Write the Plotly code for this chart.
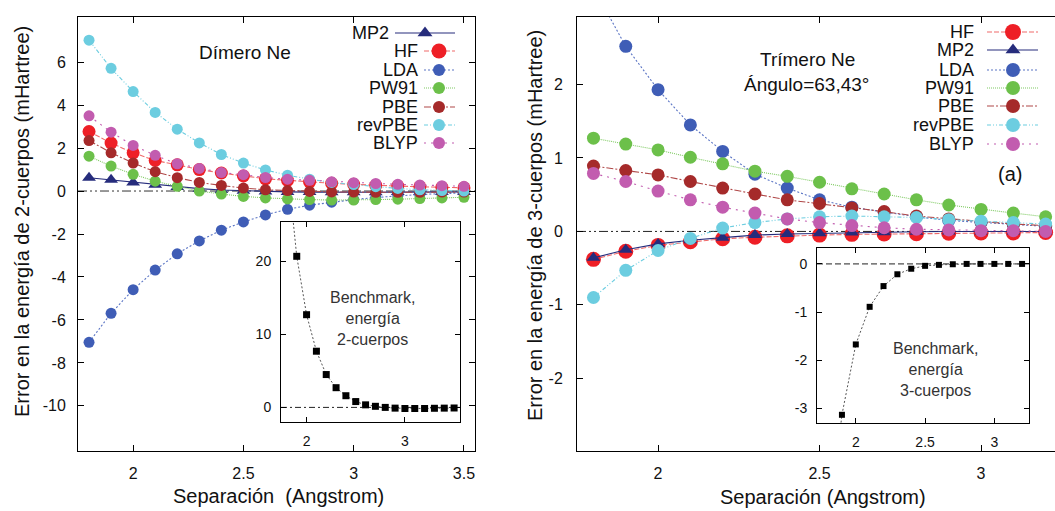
import plotly.graph_objects as go

W, H = 1055, 511

# ---------------- data: Ne dimer, 2-body error (mHartree) ----------------
sep_dimer = [1.8, 1.9, 2.0, 2.1, 2.2, 2.3, 2.4, 2.5, 2.6, 2.7, 2.8, 2.9, 3.0, 3.1, 3.2, 3.3, 3.4, 3.5]
mp2_2b = [0.62, 0.52, 0.40, 0.29, 0.19, 0.11, 0.05, 0.01, -0.02, -0.04, -0.05, -0.06, -0.06, -0.06, -0.05, -0.05, -0.04, -0.04]
hf_2b = [2.77, 2.23, 1.78, 1.42, 1.22, 1.00, 0.84, 0.70, 0.57, 0.50, 0.42, 0.36, 0.31, 0.26, 0.23, 0.20, 0.17, 0.15]
lda_2b = [-7.04, -5.69, -4.59, -3.68, -2.92, -2.32, -1.82, -1.44, -1.11, -0.85, -0.66, -0.52, -0.40, -0.30, -0.22, -0.16, -0.12, -0.09]
pw91_2b = [1.62, 1.16, 0.78, 0.46, 0.22, 0.0, -0.14, -0.25, -0.32, -0.37, -0.40, -0.42, -0.42, -0.40, -0.38, -0.35, -0.32, -0.29]
pbe_2b = [2.35, 1.78, 1.30, 0.90, 0.62, 0.40, 0.26, 0.14, 0.06, 0.02, -0.02, -0.04, -0.05, -0.06, -0.06, -0.06, -0.05, -0.05]
revpbe_2b = [7.02, 5.71, 4.63, 3.66, 2.88, 2.24, 1.70, 1.30, 0.98, 0.74, 0.55, 0.40, 0.30, 0.20, 0.12, 0.06, 0.02, 0.0]
blyp_2b = [3.50, 2.74, 2.12, 1.66, 1.27, 1.05, 0.86, 0.76, 0.63, 0.55, 0.50, 0.43, 0.39, 0.35, 0.31, 0.28, 0.25, 0.22]

# benchmark 2-body energy (inset)
bench_2b = [34.0, 20.7, 12.7, 7.7, 4.5, 2.7, 1.6, 0.8, 0.35, 0.15, 0.0, -0.1, -0.15, -0.15, -0.15, -0.12, -0.1, -0.08]

# ---------------- data: Ne trimer, 3-body error (mHartree) ----------------
sep_trimer = [1.8, 1.9, 2.0, 2.1, 2.2, 2.3, 2.4, 2.5, 2.6, 2.7, 2.8, 2.9, 3.0, 3.1, 3.2]
hf_3b = [-0.38, -0.27, -0.19, -0.14, -0.10, -0.08, -0.06, -0.05, -0.04, -0.035, -0.03, -0.025, -0.02, -0.02, -0.015]
mp2_3b = [-0.36, -0.25, -0.17, -0.12, -0.085, -0.05, -0.035, -0.025, -0.015, -0.01, -0.005, 0.0, 0.0, 0.0, 0.0]
lda_3b = [3.32, 2.52, 1.93, 1.45, 1.09, 0.78, 0.59, 0.43, 0.33, 0.26, 0.20, 0.15, 0.12, 0.09, 0.07]
pw91_3b = [1.27, 1.19, 1.11, 1.01, 0.92, 0.82, 0.75, 0.67, 0.58, 0.51, 0.43, 0.36, 0.30, 0.25, 0.20]
pbe_3b = [0.89, 0.83, 0.77, 0.68, 0.59, 0.51, 0.43, 0.38, 0.32, 0.27, 0.21, 0.17, 0.13, 0.10, 0.08]
revpbe_3b = [-0.90, -0.53, -0.26, -0.095, 0.046, 0.12, 0.17, 0.20, 0.21, 0.20, 0.19, 0.16, 0.14, 0.12, 0.10]
blyp_3b = [0.79, 0.68, 0.55, 0.43, 0.33, 0.25, 0.17, 0.12, 0.08, 0.05, 0.03, 0.02, 0.01, 0.01, 0.0]

# benchmark 3-body energy (inset)
bench_3b = [-5.6, -3.13, -1.67, -0.89, -0.46, -0.215, -0.10, -0.04, -0.02, -0.007, 0.0, 0.0, 0.0, 0.0, 0.0]

left_ticks_x = [2, 2.5, 3, 3.5]
left_ticks_y = [-10, -8, -6, -4, -2, 0, 2, 4, 6]
right_ticks_x = [2, 2.5, 3]
right_ticks_y = [-2, -1, 0, 1, 2]
inset2_ticks_x = [2, 3]
inset2_ticks_y = [0, 10, 20]
inset3_ticks_x = [2, 2.5, 3]
inset3_ticks_y = [-3, -2, -1, 0]

series_left = {"MP2": mp2_2b, "HF": hf_2b, "LDA": lda_2b, "PW91": pw91_2b,
               "PBE": pbe_2b, "revPBE": revpbe_2b, "BLYP": blyp_2b}
series_right = {"HF": hf_3b, "MP2": mp2_3b, "LDA": lda_3b, "PW91": pw91_3b,
                "PBE": pbe_3b, "revPBE": revpbe_3b, "BLYP": blyp_3b}

# ---------------- styles ----------------
FONT = "Liberation Sans, Arial, Helvetica, sans-serif"
style = {
    "MP2": dict(color="#262c7c", lc="#262c7c", dash="solid", symbol="triangle-up"),
    "HF": dict(color="#ee1f26", lc="#f06a6a", dash="5px,2px", symbol="circle"),
    "LDA": dict(color="#3f5db6", lc="#5a74c4", dash="2px,2px", symbol="circle"),
    "PW91": dict(color="#6cc04a", lc="#7fca62", dash="1px,1px", symbol="circle"),
    "PBE": dict(color="#a52a2a", lc="#b04848", dash="7px,2px,2px,2px", symbol="circle"),
    "revPBE": dict(color="#6ccde0", lc="#6ccde0", dash="4px,2px,1px,2px,1px,2px", symbol="circle"),
    "BLYP": dict(color="#c25caf", lc="#c25caf", dash="2px,5px", symbol="circle"),
}
size_left = {"MP2": 12, "HF": 13, "LDA": 11, "PW91": 11, "PBE": 11, "revPBE": 11, "BLYP": 11}
size_right = {"MP2": 12, "HF": 15, "LDA": 13, "PW91": 13, "PBE": 13, "revPBE": 13, "BLYP": 13}


def px(x):
    return x / W


def py(y):
    return 1 - y / H


fig = go.Figure()

for name, vals in series_left.items():
    s = style[name]
    fig.add_trace(go.Scatter(
        x=sep_dimer, y=vals, mode="lines+markers", name=name, showlegend=False,
        line=dict(color=s["lc"], width=1.1, dash=s["dash"]),
        marker=dict(color=s["color"], size=size_left[name], symbol=s["symbol"], line=dict(width=0)),
        xaxis="x", yaxis="y"))

for name, vals in series_right.items():
    s = style[name]
    fig.add_trace(go.Scatter(
        x=sep_trimer, y=vals, mode="lines+markers", name=name, showlegend=False,
        line=dict(color=s["lc"], width=1.1, dash=s["dash"]),
        marker=dict(color=s["color"], size=size_right[name], symbol=s["symbol"], line=dict(width=0)),
        xaxis="x2", yaxis="y2"))

fig.add_trace(go.Scatter(
    x=sep_dimer, y=bench_2b, mode="lines+markers", showlegend=False,
    line=dict(color="#555", width=1, dash="2px,2px"),
    marker=dict(color="black", size=7, symbol="square"), xaxis="x3", yaxis="y3"))
fig.add_trace(go.Scatter(
    x=sep_trimer, y=bench_3b, mode="lines+markers", showlegend=False,
    line=dict(color="#555", width=1, dash="2px,2px"),
    marker=dict(color="black", size=6, symbol="square"), xaxis="x4", yaxis="y4"))

# ---------------- hand-built legends (text left, key right) ----------------
legend_left_rows = [("MP2", 33), ("HF", 51), ("LDA", 70), ("PW91", 88), ("PBE", 107), ("revPBE", 125), ("BLYP", 143)]
legend_right_rows = [("HF", 32), ("MP2", 50), ("LDA", 70), ("PW91", 88), ("PBE", 106), ("revPBE", 125), ("BLYP", 144)]

annotations = []


def add_key(name, yrow, x0, xm, x1, xtext, msize):
    s = style[name]
    fig.add_trace(go.Scatter(
        x=[x0, x1], y=[yrow, yrow], mode="lines", showlegend=False,
        line=dict(color=s["lc"], width=1.1, dash=s["dash"]),
        xaxis="x5", yaxis="y5", hoverinfo="skip"))
    fig.add_trace(go.Scatter(
        x=[xm], y=[yrow], mode="markers", showlegend=False,
        marker=dict(color=s["color"], size=msize, symbol=s["symbol"], opacity=1, line=dict(width=0)),
        xaxis="x5", yaxis="y5", hoverinfo="skip"))
    annotations.append(dict(x=px(xtext), y=py(yrow), xref="paper", yref="paper", text=name,
                            showarrow=False, xanchor="right", yanchor="middle",
                            font=dict(family=FONT, size=18, color="#111")))


for name, yrow in legend_left_rows:
    if name == "MP2":
        add_key(name, yrow, 395, 425, 455, 391, 13)
    else:
        add_key(name, yrow, 424, 439, 455, 420, 15 if name == "HF" else 12)

for name, yrow in legend_right_rows:
    add_key(name, yrow, 987, 1013, 1038, 976, 13 if name == "MP2" else (16 if name == "HF" else 14))

# ---------------- texts ----------------
def txt(text, x, y, size, color="#111", angle=0):
    annotations.append(dict(x=px(x), y=py(y), xref="paper", yref="paper", text=text,
                            showarrow=False, xanchor="center", yanchor="middle", textangle=angle,
                            font=dict(family=FONT, size=size, color=color)))


txt("Dímero Ne", 245, 53, 19)
txt("Trímero Ne", 807, 59, 19)
txt("Ángulo=63,43°", 806, 84, 19)
txt("(a)", 1010, 174, 20)
txt("Benchmark,<br>energía<br>2-cuerpos", 372, 318, 16, "#333")
txt("Benchmark,<br>energía<br>3-cuerpos", 935, 369, 16, "#333")
txt("Error en la energía de 2-cuerpos (mHartree)", 22, 222, 20, angle=-90)
txt("Error en la energía de 3-cuerpos (mHartree)", 535, 226, 20, angle=-90)
txt("Separación\u00a0\u00a0(Angstrom)", 278, 496, 20)
txt("Separación (Angstrom)", 823, 497, 20)


def tt(vals):
    return [f"{v:g}" for v in vals]


def ax(domain, rng, tickvals, anchor, size=16, ticklen=6, mirror="ticks", standoff=8):
    return dict(domain=domain, range=rng, tickvals=tickvals, ticktext=tt(tickvals), anchor=anchor,
                ticks="inside", ticklen=ticklen, tickwidth=1, tickcolor="black",
                showline=True, linecolor="black", linewidth=1, mirror=mirror,
                showgrid=False, zeroline=False, ticklabelstandoff=standoff,
                tickfont=dict(family=FONT, size=size, color="#111"))


main_ydom = [py(451), py(17)]
layout = dict(
    width=W, height=H, autosize=False, margin=dict(l=0, r=0, t=0, b=0),
    paper_bgcolor="white", plot_bgcolor="rgba(0,0,0,0)", showlegend=False,
    xaxis=ax([px(78), px(475)], [1.75, 3.55], left_ticks_x, "y"),
    yaxis=ax(main_ydom, [-12.1, 8.1], left_ticks_y, "x"),
    xaxis2=ax([px(577), 1.0], [1.749, 3.229], right_ticks_x, "y2"),
    yaxis2=ax(main_ydom, [-2.99, 2.92], right_ticks_y, "x2", mirror=False, standoff=10),
    xaxis3=ax([px(281), px(460)], [1.74, 3.56], inset2_ticks_x, "y3", size=14, ticklen=5, standoff=6),
    yaxis3=ax([py(422), py(222)], [-2.0, 25.4], inset2_ticks_y, "x3", size=14, ticklen=5, standoff=6),
    xaxis4=ax([px(817), px(1029)], [1.72, 3.25], inset3_ticks_x, "y4", size=14, ticklen=5, standoff=6),
    yaxis4=ax([py(423), py(248)], [-3.3, 0.33], inset3_ticks_y, "x4", size=14, ticklen=5, standoff=6),
    xaxis5=dict(domain=[0, 1], range=[0, W], visible=False, anchor="y5", fixedrange=True),
    yaxis5=dict(domain=[0, 1], range=[H, 0], visible=False, anchor="x5", fixedrange=True),
    annotations=annotations,
    shapes=[
        dict(type="line", xref="x domain", x0=0, x1=1, yref="y", y0=0, y1=0, layer="below",
             line=dict(color="#333", width=1, dash="9px,3px,2px,3px,2px,3px")),
        dict(type="line", xref="x2 domain", x0=0, x1=1, yref="y2", y0=0, y1=0, layer="below",
             line=dict(color="#222", width=1, dash="9px,3px,2px,3px,2px,3px")),
        dict(type="line", xref="x3 domain", x0=0, x1=1, yref="y3", y0=0, y1=0, layer="below",
             line=dict(color="#222", width=1, dash="6px,3px,2px,3px")),
        dict(type="line", xref="x4 domain", x0=0, x1=1, yref="y4", y0=0, y1=0, layer="below",
             line=dict(color="#222", width=1, dash="6px,3px")),
    ],
)
fig.update_layout(**layout)
fig.write_html("out.html", config={"displayModeBar": False},
               post_script="document.body.style.margin='0';")
